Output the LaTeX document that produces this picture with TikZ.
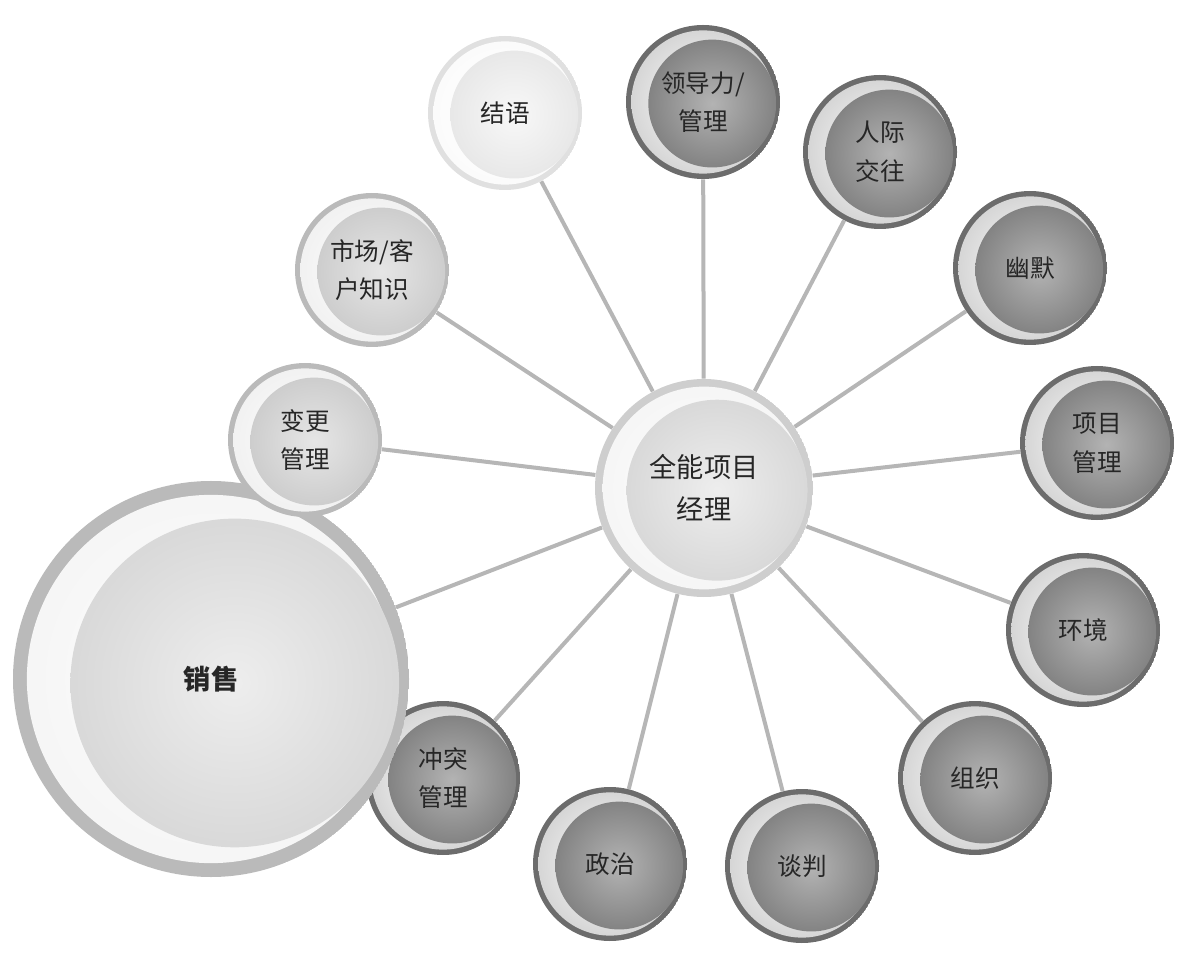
\documentclass[tikz,border=0pt]{standalone}
\usepackage{fontspec}
\newfontfamily\cjk{Noto Sans CJK SC}
\usepackage{tikz}
\usetikzlibrary{backgrounds}
\definecolor{pmdkrim}{RGB}{108,108,108}
\definecolor{pmdkbody}{RGB}{138,138,138}
\definecolor{pmltrim}{RGB}{186,186,186}
\definecolor{pmltbody}{RGB}{216,216,216}
\definecolor{pmhubrim}{RGB}{206,206,206}
\definecolor{pmhubbody}{RGB}{228,228,228}
\definecolor{pmwhrim}{RGB}{224,224,224}
\definecolor{pmwhbody}{RGB}{244,244,244}
\definecolor{pmline}{RGB}{182,182,182}
\tikzset{
  pmball/.style n args={3}{circle, inner sep=0pt, minimum size=2*#1, align=center,
    font=\cjk\fontsize{14}{22}\selectfont, text=black!85,
    path picture={
      \fill[#2] (path picture bounding box.center) circle (#1);
      \shade[inner color=white, outer color=#3!35!white]
        (path picture bounding box.center) circle (0.93*#1);
      \shade[inner color=#3!65!white, outer color=#3!95!black]
        ([xshift=0.12*#1, yshift=-0.02*#1]path picture bounding box.center) circle (0.83*#1);
    }},
  pmdark/.style={pmball={15.4mm}{pmdkrim}{pmdkbody}},
  pmlight/.style={pmball={15.4mm}{pmltrim}{pmltbody}},
  pmlink/.style={draw=pmline, line width=0.8mm}
}

\begin{document}
\begin{tikzpicture}[x=0.2mm, y=-0.2mm]
  \useasboundingbox (0,0) rectangle (1185,963);
  % hub
  \node[pmball={21.8mm}{pmhubrim}{pmhubbody}, font=\cjk\fontsize{15.5}{24}\selectfont] (c) at (704,488) {全能项目\\经理};
  % skills round the hub
  \node[pmball={15.4mm}{pmwhrim}{pmwhbody}] (s1) at (505,113) {结语};
  \node[pmdark] (s2) at (703,102) {领导力/\\管理};
  \node[pmdark] (s3) at (880,152) {人际\\交往};
  \node[pmdark] (s4) at (1030,268) {幽默};
  \node[pmdark] (s5) at (1097,443) {项目\\管理};
  \node[pmdark] (s6) at (1083,630) {环境};
  \node[pmdark] (s7) at (975,778) {组织};
  \node[pmdark] (s8) at (802,866) {谈判};
  \node[pmdark] (s9) at (610,864) {政治};
  \node[pmdark] (s10) at (443,778) {冲突\\管理};
  \node[pmball={39.6mm}{pmltrim}{pmhubbody}, font=\cjk\bfseries\fontsize{15.5}{24}\selectfont] (s11) at (211,679) {销售};
  \node[pmlight] (s12) at (305,440) {变更\\管理};
  \node[pmlight] (s13) at (372,270) {市场/客\\户知识};
  \begin{scope}[on background layer]
    \foreach \n in {s1,s2,s3,s4,s5,s6,s7,s8,s9,s10,s11,s12,s13}
      \draw[pmlink] (c) -- (\n);
  \end{scope}
\end{tikzpicture}
\end{document}
